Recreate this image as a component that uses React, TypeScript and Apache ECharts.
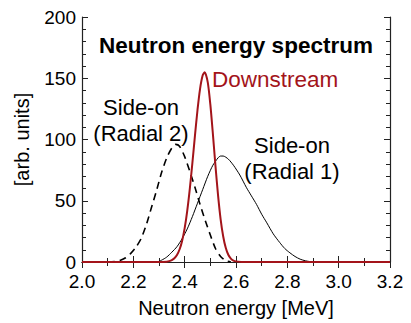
import React, { useEffect, useRef } from "react";
import * as echarts from "echarts";

const xTicks = ["2.0", "2.2", "2.4", "2.6", "2.8", "3.0", "3.2"];
const yTicks = ["0", "50", "100", "150", "200"];

const downstreamE = [2.0, 2.3, 2.33, 2.34, 2.35, 2.36, 2.37, 2.38, 2.39, 2.4, 2.41, 2.42, 2.43, 2.44, 2.45, 2.46, 2.47, 2.478, 2.49, 2.5, 2.51, 2.52, 2.53, 2.54, 2.55, 2.56, 2.57, 2.58, 2.59, 2.6, 2.62, 2.64, 3.2];
const downstreamV = [0, 0, 0.3, 0.7, 1.5, 3.0, 5.7, 10.2, 17.2, 27.6, 41.8, 59.7, 80.7, 102.9, 124.1, 141.4, 152.2, 155, 146.6, 128.6, 104.4, 78.5, 54.6, 35.1, 21.0, 11.6, 5.9, 2.8, 1.2, 0.5, 0.1, 0, 0];

const radial1E = [2.0, 2.29, 2.31, 2.33, 2.35, 2.37, 2.39, 2.41, 2.43, 2.45, 2.47, 2.49, 2.51, 2.53, 2.54, 2.55, 2.57, 2.59, 2.615, 2.64, 2.66, 2.68, 2.7, 2.72, 2.745, 2.77, 2.79, 2.81, 2.83, 2.85, 2.87, 2.89, 2.92, 3.2];
const radial1V = [0, 0, 1.5, 4, 8, 12.5, 19, 27, 37, 48, 59, 70, 79, 85, 86.5, 86.5, 84, 79, 71, 61, 54, 47, 39, 32, 23, 16, 11, 7.5, 4.5, 2.3, 1, 0.3, 0, 0];

const radial2E = [2.1, 2.13, 2.15, 2.17, 2.19, 2.21, 2.23, 2.25, 2.27, 2.29, 2.31, 2.33, 2.35, 2.365, 2.38, 2.4, 2.42, 2.44, 2.46, 2.48, 2.5, 2.52, 2.54, 2.56, 2.58];
const radial2V = [0, 0.5, 1.5, 3.5, 7, 12, 19, 30, 44, 58, 73, 85, 93, 96, 94.5, 86, 74, 61, 47, 34, 22, 11, 4.5, 1, 0];

const zip = (xs: number[], ys: number[]) => xs.map((x, i) => [x, ys[i]]);

const FONT = "Liberation Sans, Arial, sans-serif";
const RED = "#a3141a";

export default function App() {
  const ref = useRef<HTMLDivElement>(null);
  useEffect(() => {
    if (!ref.current) return;
    const chart = echarts.init(ref.current, null, { renderer: "svg" });
    const tickCommon = { show: true, inside: true, length: 6, lineStyle: { color: "#222", width: 1 } };
    const lineCommon = { show: true, lineStyle: { color: "#222", width: 1.2 } };
    chart.setOption({
      animation: false,
      backgroundColor: "#fff",
      grid: { left: 82, right: 21, top: 17, bottom: 58 },
      xAxis: [
        {
          type: "value", min: 2.0, max: 3.2, interval: 0.2, position: "bottom",
          axisLine: lineCommon, axisTick: tickCommon,
          minorTick: { show: true, splitNumber: 2, length: 4, lineStyle: { color: "#222" } },
          splitLine: { show: false },
          axisLabel: {
            color: "#000", fontSize: 19, fontFamily: FONT, margin: 10,
            formatter: (v: number) => xTicks.find((t) => Math.abs(parseFloat(t) - v) < 1e-6) ?? "",
          },
          name: "Neutron energy [MeV]", nameLocation: "middle", nameGap: 36,
          nameTextStyle: { color: "#000", fontSize: 20, fontFamily: FONT },
        },
        {
          type: "value", min: 2.0, max: 3.2, interval: 0.2, position: "top",
          axisLine: lineCommon, axisTick: tickCommon,
          minorTick: { show: true, splitNumber: 2, length: 4, lineStyle: { color: "#222" } },
          splitLine: { show: false }, axisLabel: { show: false },
        },
      ],
      yAxis: [
        {
          type: "value", min: 0, max: 200, interval: 50, position: "left",
          axisLine: lineCommon, axisTick: tickCommon,
          minorTick: { show: true, splitNumber: 5, length: 4, lineStyle: { color: "#222" } },
          splitLine: { show: false },
          axisLabel: {
            color: "#000", fontSize: 19, fontFamily: FONT, margin: 6,
            formatter: (v: number) => yTicks.find((t) => Math.abs(parseFloat(t) - v) < 1e-6) ?? "",
          },
          name: "[arb. units]", nameLocation: "middle", nameGap: 50,
          nameTextStyle: { color: "#000", fontSize: 20, fontFamily: FONT },
        },
        {
          type: "value", min: 0, max: 200, interval: 50, position: "right",
          axisLine: lineCommon, axisTick: tickCommon,
          minorTick: { show: true, splitNumber: 5, length: 4, lineStyle: { color: "#222" } },
          splitLine: { show: false }, axisLabel: { show: false },
        },
      ],
      series: [
        {
          name: "Side-on (Radial 2)", type: "line", data: zip(radial2E, radial2V),
          showSymbol: false, smooth: 0.25, xAxisIndex: 0, yAxisIndex: 0,
          lineStyle: { color: "#000", width: 1.6, type: [7, 5] },
        },
        {
          name: "Side-on (Radial 1)", type: "line", data: zip(radial1E, radial1V),
          showSymbol: false, smooth: 0.25, xAxisIndex: 0, yAxisIndex: 0,
          lineStyle: { color: "#000", width: 1 },
        },
        {
          name: "Downstream", type: "line", data: zip(downstreamE, downstreamV),
          showSymbol: false, smooth: 0.25, xAxisIndex: 0, yAxisIndex: 0,
          lineStyle: { color: RED, width: 2 },
        },
      ],
      graphic: [
        {
          type: "text", x: 236, y: 45,
          style: { text: "Neutron energy spectrum", fill: "#000", font: `bold 22.5px ${FONT}`, align: "center", verticalAlign: "middle" },
        },
        {
          type: "text", x: 212, y: 79,
          style: { text: "Downstream", fill: RED, font: `22.5px ${FONT}`, align: "left", verticalAlign: "middle" },
        },
        {
          type: "text", x: 141, y: 120,
          style: { text: "Side-on\n(Radial 2)", fill: "#000", font: `22px ${FONT}`, lineHeight: 26, align: "center", verticalAlign: "middle" },
        },
        {
          type: "text", x: 292, y: 158,
          style: { text: "Side-on\n(Radial 1)", fill: "#000", font: `22px ${FONT}`, lineHeight: 26, align: "center", verticalAlign: "middle" },
        },
      ],
    });
    return () => chart.dispose();
  }, []);
  return <div ref={ref} style={{ width: 411, height: 323, position: "absolute", left: 0, top: 0 }} />;
}
